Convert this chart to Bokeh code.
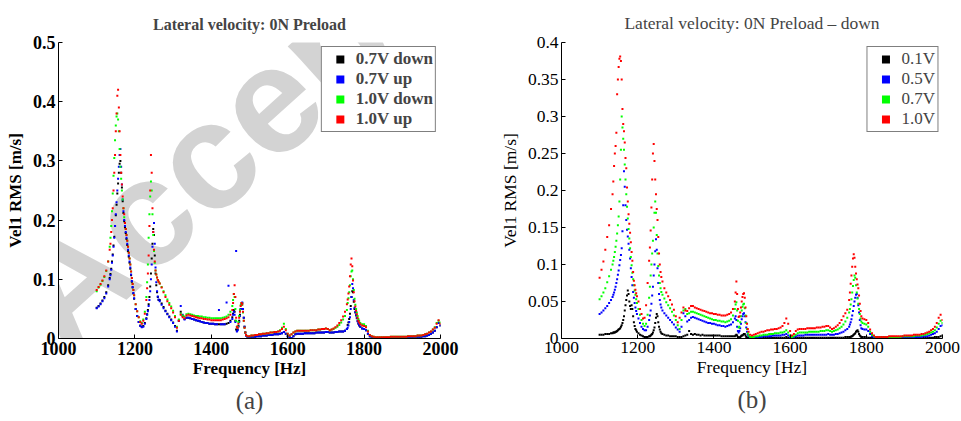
import math
from bokeh.plotting import figure
from bokeh.layouts import row
from bokeh.models import FixedTicker, Label, Title, Range1d
from bokeh.embed import file_html
from bokeh.resources import INLINE

# ---------------- data ----------------
freq = [
    1100, 1105, 1110, 1115, 1120, 1125, 1130,
    1134, 1136, 1138, 1140, 1142, 1144, 1146, 1148, 1150, 1152, 1154, 1156, 1158, 1160, 1162, 1164, 1166,
    1168, 1170, 1172, 1174, 1176, 1178, 1180, 1182, 1184, 1186, 1188, 1190, 1192, 1194, 1196, 1198,
    1202, 1206, 1210, 1214, 1218, 1222, 1226, 1230,
    1232, 1234, 1236, 1238, 1240, 1242, 1244, 1246, 1248, 1250, 1252, 1254, 1256, 1258, 1260, 1262,
    1265, 1270, 1275, 1280, 1285, 1290, 1295, 1300, 1305, 1310, 1315, 1320, 1325, 1330, 1335, 1340,
    1345, 1350, 1355, 1360, 1365, 1370, 1375, 1380, 1385, 1390, 1395, 1400, 1405, 1410, 1415, 1420,
    1425, 1430, 1435, 1440, 1445, 1450, 1455,
    1457, 1459, 1461, 1463, 1465, 1467, 1469, 1471, 1473, 1475, 1477, 1479, 1481, 1483, 1485, 1487, 1489, 1491,
    1495, 1500, 1505, 1510, 1515, 1520, 1525, 1530, 1535, 1540, 1545, 1550, 1555, 1560, 1565, 1570,
    1575, 1580, 1585, 1590, 1595, 1600, 1605, 1610, 1615, 1620, 1625, 1630, 1635, 1640, 1645, 1650,
    1655, 1660, 1665, 1670, 1675, 1680, 1685, 1690, 1695, 1700, 1705, 1710, 1715, 1720, 1725, 1730,
    1735, 1740, 1745, 1750, 1755,
    1757, 1759, 1761, 1763, 1765, 1767, 1769, 1771, 1773, 1775, 1777, 1779, 1781, 1783, 1785, 1787,
    1790, 1795, 1800, 1805, 1810, 1815, 1820, 1825, 1830, 1835, 1840, 1845, 1850, 1855, 1860, 1865,
    1870, 1875, 1880, 1885, 1890, 1895, 1900, 1905, 1910, 1915, 1920, 1925, 1930, 1935, 1940, 1945,
    1950, 1955, 1960, 1965, 1970, 1975, 1980, 1985, 1990, 1995, 2000,
]

# panel (a): Lateral velocity, 0N preload  [m/s]
a_07_down = [
    .052, .055, .059, .064, .070, .078, .090,
    .102, .109, .118, .130, .142, .157, .172, .190, .208, .226, .245, .262, .280, .295, .300, .280, .255,
    .232, .212, .198, .188, .178, .168, .158, .148, .138, .128, .118, .107, .096, .086, .076, .067,
    .050, .038, .028, .022, .020, .021, .026, .034,
    .041, .048, .058, .070, .088, .110, .135, .160, .185, .175, .140, .110, .090, .078, .070, .065,
    .065, .059, .053, .047, .042, .037, .032, .027, .021, .013, .030, .045, .038, .033, .035, .035,
    .034, .033, .032, .031, .030, .029, .028, .027, .026, .026, .025, .025, .025, .024, .024, .024,
    .024, .024, .024, .025, .026, .030, .036,
    .042, .048, .045, .030, .015, .013, .015, .021, .030, .040, .050, .057, .060, .050, .035, .020, .010, .005,
    .002, .002, .003, .003, .003, .004, .004, .004, .005, .005, .005, .006, .006, .006, .007, .007,
    .007, .008, .009, .011, .008, .004, .002, .001, .004, .007, .008, .008, .008, .008, .009, .009,
    .009, .009, .009, .009, .010, .010, .010, .010, .010, .011, .011, .010, .010, .010, .011, .011,
    .012, .012, .012, .013, .016,
    .023, .027, .033, .042, .055, .070, .080, .078, .062, .050, .044, .039, .034, .029, .025, .022,
    .020, .017, .016, .014, .008, .004, .002, .001, .001, .001, .001, .001, .001, .001, .001, .001,
    .001, .001, .001, .002, .002, .002, .002, .002, .002, .002, .002, .002, .003, .003, .003, .003,
    .003, .004, .004, .005, .006, .008, .010, .013, .019, .026, .022,
]
a_07_up = [
    .051, .054, .058, .063, .068, .076, .088,
    .100, .107, .116, .128, .140, .155, .170, .190, .210, .230, .250, .270, .290, .310, .320, .290, .260,
    .235, .215, .200, .190, .180, .170, .160, .150, .140, .130, .120, .108, .097, .087, .077, .068,
    .050, .038, .028, .021, .019, .020, .025, .033,
    .040, .046, .055, .065, .080, .100, .125, .155, .180, .195, .160, .120, .095, .080, .071, .066,
    .063, .057, .051, .046, .041, .036, .031, .026, .020, .012, .030, .055, .040, .032, .035, .035,
    .034, .033, .032, .031, .030, .029, .028, .027, .026, .026, .025, .025, .025, .024, .024, .048,
    .024, .024, .024, .061, .089, .028, .033,
    .040, .045, .040, .028, .148, .012, .014, .020, .028, .038, .050, .058, .061, .050, .035, .020, .010, .005,
    .002, .002, .003, .003, .003, .004, .004, .004, .005, .005, .005, .006, .006, .006, .007, .007,
    .007, .008, .009, .011, .008, .004, .002, .001, .004, .007, .008, .008, .008, .008, .009, .009,
    .009, .009, .009, .009, .010, .010, .010, .010, .010, .011, .011, .010, .010, .010, .011, .011,
    .012, .012, .012, .013, .016,
    .018, .022, .028, .036, .050, .070, .092, .085, .065, .052, .045, .040, .035, .030, .026, .023,
    .020, .017, .016, .014, .008, .004, .002, .001, .001, .001, .001, .001, .001, .001, .001, .001,
    .001, .001, .001, .002, .002, .002, .002, .002, .002, .002, .002, .002, .003, .003, .003, .003,
    .003, .004, .004, .005, .006, .008, .010, .013, .019, .026, .022,
]
a_10_down = [
    .080, .086, .091, .097, .104, .114, .130,
    .155, .170, .190, .215, .245, .275, .305, .335, .360, .375, .380, .370, .350, .320, .290, .270, .250,
    .235, .220, .205, .195, .185, .175, .165, .155, .145, .135, .125, .113, .102, .092, .082, .073,
    .058, .046, .036, .029, .026, .032, .045, .070,
    .095, .125, .170, .210, .240, .265, .250, .210, .175, .148, .128, .115, .108, .103, .099, .096,
    .093, .087, .080, .073, .066, .060, .054, .047, .038, .020, .032, .042, .039, .037, .041, .042,
    .041, .040, .039, .038, .038, .037, .037, .036, .036, .035, .035, .034, .034, .034, .034, .034,
    .034, .035, .036, .037, .040, .045, .055,
    .065, .075, .070, .050, .030, .020, .020, .028, .038, .048, .056, .060, .057, .044, .030, .018, .010, .006,
    .004, .004, .005, .005, .006, .006, .007, .007, .008, .008, .009, .009, .010, .010, .011, .011,
    .012, .014, .018, .025, .016, .008, .005, .007, .010, .012, .013, .013, .013, .013, .013, .013,
    .013, .014, .014, .014, .014, .015, .015, .016, .016, .017, .016, .014, .015, .016, .018, .020,
    .023, .027, .032, .038, .048,
    .060, .068, .078, .090, .105, .113, .115, .100, .082, .067, .057, .050, .044, .038, .033, .030,
    .026, .024, .024, .021, .013, .006, .004, .003, .002, .002, .002, .002, .002, .002, .002, .002,
    .003, .003, .003, .003, .003, .003, .003, .003, .003, .004, .004, .004, .004, .004, .005, .005,
    .005, .006, .007, .008, .010, .012, .015, .019, .026, .030, .027,
]
a_10_up = [
    .082, .087, .092, .098, .105, .115, .130,
    .150, .160, .180, .200, .220, .250, .280, .310, .350, .380, .410, .420, .390, .350, .310, .280, .260,
    .240, .220, .210, .195, .185, .175, .165, .155, .145, .135, .125, .113, .102, .092, .082, .073,
    .058, .046, .036, .028, .025, .030, .042, .065,
    .085, .110, .140, .190, .250, .310, .280, .220, .180, .150, .130, .115, .108, .103, .099, .096,
    .093, .086, .078, .070, .063, .057, .051, .044, .036, .018, .030, .040, .036, .034, .039, .040,
    .039, .038, .037, .036, .035, .034, .034, .033, .033, .032, .032, .031, .031, .031, .031, .031,
    .031, .032, .033, .034, .036, .040, .048,
    .060, .075, .090, .070, .035, .020, .018, .025, .035, .045, .055, .060, .058, .045, .030, .018, .010, .006,
    .004, .004, .005, .005, .006, .006, .007, .007, .008, .008, .009, .009, .010, .010, .011, .011,
    .012, .013, .016, .020, .014, .008, .005, .007, .010, .012, .013, .013, .013, .013, .013, .013,
    .013, .014, .014, .014, .014, .015, .015, .016, .016, .017, .016, .014, .015, .017, .019, .022,
    .026, .031, .037, .045, .058,
    .066, .076, .088, .105, .125, .135, .122, .098, .078, .063, .054, .047, .041, .035, .030, .027,
    .024, .022, .021, .019, .012, .006, .004, .003, .002, .002, .002, .002, .002, .002, .002, .002,
    .003, .003, .003, .003, .003, .003, .003, .003, .003, .004, .004, .004, .004, .004, .005, .005,
    .005, .006, .007, .008, .010, .012, .015, .018, .025, .031, .025,
]

# panel (b): Lateral velocity, 0N preload, down sweep  [m/s]
b_01 = [
    .005, .005, .005, .006, .006, .006, .007,
    .007, .008, .008, .008, .009, .009, .010, .011, .012, .013, .014, .016, .018, .021, .025, .030, .038,
    .045, .052, .058, .065, .060, .050, .044, .040, .045, .040, .030, .022, .017, .013, .011, .009,
    .007, .005, .004, .003, .002, .002, .002, .003,
    .003, .004, .005, .006, .008, .011, .015, .021, .028, .033, .030, .022, .016, .012, .009, .007,
    .006, .005, .004, .004, .003, .003, .003, .003, .002, .002, .002, .003, .004, .005, .010, .006,
    .005, .006, .005, .005, .004, .005, .004, .004, .004, .004, .004, .004, .004, .004, .004, .003,
    .003, .003, .003, .003, .003, .003, .003,
    .004, .005, .004, .002, .001, .001, .002, .003, .004, .004, .005, .006, .006, .004, .002, .001, .001, .001,
    .001, .001, .001, .001, .001, .001, .001, .001, .001, .001, .001, .001, .001, .001, .001, .001,
    .001, .001, .001, .002, .001, .001, .001, .001, .001, .001, .001, .001, .001, .001, .001, .001,
    .001, .001, .001, .001, .001, .001, .001, .001, .001, .001, .001, .001, .001, .001, .001, .001,
    .001, .001, .002, .002, .002,
    .002, .002, .003, .003, .004, .005, .006, .007, .009, .010, .011, .009, .006, .004, .003, .002,
    .002, .002, .002, .001, .001, .001, .001, .001, .001, .001, .001, .001, .001, .001, .001, .001,
    .001, .001, .001, .001, .001, .001, .001, .001, .001, .001, .001, .001, .001, .001, .001, .001,
    .001, .001, .001, .001, .001, .001, .002, .002, .002, .003, .004,
]
b_05 = [
    .033, .035, .038, .041, .044, .048, .052,
    .056, .059, .062, .066, .070, .075, .080, .086, .092, .099, .106, .113, .122, .145, .180, .226, .205,
    .180, .160, .147, .138, .128, .120, .108, .095, .083, .072, .063, .055, .048, .042, .037, .033,
    .027, .021, .016, .013, .011, .011, .016, .025,
    .031, .038, .047, .058, .070, .085, .100, .118, .134, .120, .095, .075, .060, .052, .046, .042,
    .038, .034, .031, .028, .025, .022, .019, .015, .012, .009, .016, .034, .030, .023, .025, .028,
    .029, .028, .027, .026, .025, .024, .023, .022, .021, .021, .020, .020, .019, .018, .018, .017,
    .017, .016, .017, .018, .019, .022, .027,
    .030, .025, .016, .010, .008, .010, .014, .020, .026, .030, .033, .034, .030, .022, .015, .009, .005, .003,
    .001, .001, .001, .002, .002, .002, .002, .003, .003, .003, .003, .003, .004, .004, .004, .004,
    .004, .005, .005, .006, .004, .002, .001, .002, .003, .004, .004, .004, .004, .005, .005, .005,
    .005, .005, .005, .005, .005, .005, .005, .005, .005, .006, .005, .005, .005, .006, .006, .007,
    .008, .009, .011, .013, .016,
    .019, .022, .026, .031, .037, .044, .050, .055, .059, .060, .055, .045, .035, .025, .018, .014,
    .013, .012, .012, .010, .006, .003, .002, .001, .001, .001, .001, .001, .001, .001, .001, .001,
    .001, .001, .001, .001, .001, .001, .001, .001, .002, .002, .002, .002, .002, .002, .002, .002,
    .003, .003, .003, .004, .005, .006, .007, .009, .013, .017, .018,
]
b_07 = [
    .053, .057, .062, .068, .076, .084, .093,
    .100, .105, .110, .117, .124, .132, .142, .153, .165, .185, .215, .255, .300, .285, .270, .255, .235,
    .215, .195, .178, .162, .148, .135, .122, .110, .099, .089, .080, .072, .065, .059, .053, .048,
    .040, .032, .025, .020, .017, .020, .032, .055,
    .070, .085, .100, .115, .132, .150, .170, .185, .170, .140, .115, .098, .085, .075, .068, .063,
    .059, .054, .049, .045, .041, .036, .031, .025, .018, .013, .025, .038, .040, .033, .034, .036,
    .036, .035, .034, .033, .032, .031, .030, .029, .028, .027, .026, .025, .025, .024, .024, .023,
    .023, .022, .023, .024, .026, .031, .040,
    .046, .049, .038, .024, .015, .016, .022, .030, .038, .043, .046, .047, .041, .031, .021, .013, .007, .004,
    .002, .002, .002, .003, .003, .004, .004, .005, .005, .005, .006, .006, .006, .007, .007, .007,
    .008, .008, .009, .011, .008, .004, .002, .003, .005, .007, .008, .008, .008, .008, .008, .009,
    .009, .009, .009, .009, .009, .010, .010, .010, .011, .011, .010, .009, .010, .011, .012, .014,
    .016, .019, .023, .028, .035,
    .040, .046, .053, .062, .071, .079, .085, .082, .072, .062, .054, .047, .040, .033, .027, .023,
    .021, .020, .019, .016, .009, .005, .003, .002, .002, .002, .002, .002, .002, .002, .002, .002,
    .002, .002, .002, .002, .002, .003, .003, .003, .003, .003, .003, .003, .004, .004, .004, .004,
    .005, .005, .006, .007, .008, .009, .011, .015, .020, .024, .021,
]
b_10 = [
    .082, .093, .104, .120, .137, .153, .175,
    .195, .212, .233, .250, .260, .278, .330, .350, .367, .378, .381, .375, .350, .310, .290, .280, .265,
    .244, .230, .204, .185, .168, .155, .143, .130, .117, .105, .090, .078, .072, .066, .061, .057,
    .050, .040, .033, .027, .028, .045, .075, .105,
    .123, .146, .177, .215, .250, .263, .240, .215, .195, .175, .160, .137, .115, .100, .090, .083,
    .077, .068, .062, .057, .052, .046, .039, .030, .022, .028, .035, .042, .038, .037, .041, .044,
    .044, .042, .041, .040, .039, .038, .037, .036, .035, .034, .034, .033, .033, .032, .032, .031,
    .031, .031, .032, .033, .035, .040, .050,
    .062, .077, .060, .040, .029, .030, .035, .042, .050, .056, .060, .061, .055, .042, .030, .020, .013, .009,
    .005, .004, .005, .006, .007, .008, .009, .009, .010, .011, .011, .012, .012, .013, .013, .014,
    .015, .017, .021, .027, .020, .010, .004, .006, .010, .012, .013, .013, .013, .013, .014, .014,
    .014, .014, .014, .015, .015, .015, .016, .016, .017, .017, .015, .013, .014, .016, .018, .021,
    .025, .030, .034, .039, .052,
    .062, .074, .085, .097, .108, .114, .109, .097, .088, .080, .073, .068, .058, .047, .037, .030,
    .027, .026, .025, .021, .012, .007, .004, .002, .002, .002, .002, .002, .002, .002, .003, .003,
    .003, .003, .003, .003, .003, .003, .004, .004, .004, .004, .004, .005, .005, .005, .005, .006,
    .006, .007, .008, .009, .011, .013, .016, .021, .028, .032, .025,
]

x_ticks = [1000, 1200, 1400, 1600, 1800, 2000]
a_yticks = [0, 0.1, 0.2, 0.3, 0.4, 0.5]
a_ylabels = ["0", "0.1", "0.2", "0.3", "0.4", "0.5"]
b_yticks = [0, 0.05, 0.1, 0.15, 0.2, 0.25, 0.3, 0.35, 0.4]
b_ylabels = ["0", "0.05", "0.1", "0.15", "0.2", "0.25", "0.3", "0.35", "0.4"]

series_a = [("0.7V down", a_07_down, "#000000"), ("0.7V up", a_07_up, "#0000ff"),
            ("1.0V down", a_10_down, "#00ff00"), ("1.0V up", a_10_up, "#ff0000")]
series_b = [("0.1V", b_01, "#000000"), ("0.5V", b_05, "#0000ff"),
            ("0.7V", b_07, "#00ff00"), ("1.0V", b_10, "#ff0000")]

for name, s, _c in series_a + series_b:
    assert len(s) == len(freq), (name, len(s), len(freq))

FONT = "Liberation Serif"


def make_panel(width, ymax, yticks, ylabels, series, title, caption, weight,
               border_left, border_right, border_top, fs):
    p = figure(width=width, height=421, x_range=Range1d(1000, 2000), y_range=Range1d(0, ymax),
               output_backend="svg", toolbar_location=None,
               min_border_left=border_left, min_border_right=border_right,
               min_border_top=border_top, min_border_bottom=83)
    p.outline_line_color = None
    p.grid.visible = False
    p.background_fill_color = None
    p.border_fill_color = "white"

    p.title.text = title
    p.title.align = "center"
    p.title.text_font = FONT
    p.title.text_font_style = weight
    p.title.text_font_size = fs["title"]
    p.title.standoff = 20

    for ax in (p.xaxis[0], p.yaxis[0]):
        ax.axis_line_color = "black"
        ax.axis_line_width = 1
        ax.major_tick_in = 4
        ax.major_tick_out = 0
        ax.minor_tick_line_color = None
        ax.major_tick_line_color = "black"
        ax.major_label_text_font = FONT
        ax.major_label_text_font_style = weight
        ax.major_label_text_font_size = fs["tick"]
        ax.major_label_text_color = "black"
        ax.axis_label_text_font = FONT
        ax.axis_label_text_font_style = weight
        ax.axis_label_text_font_size = fs["label"]
        ax.axis_label_text_color = "black"

    p.xaxis.ticker = FixedTicker(ticks=x_ticks)
    p.yaxis.ticker = FixedTicker(ticks=yticks)
    p.yaxis.major_label_overrides = {t: l for t, l in zip(yticks, ylabels)}
    p.xaxis.axis_label = "Frequency [Hz]"
    p.yaxis.axis_label = "Vel1 RMS [m/s]"
    p.xaxis.major_label_standoff = 3
    p.yaxis.major_label_standoff = 3
    p.xaxis.axis_label_standoff = 1
    p.yaxis.axis_label_standoff = 5

    for name, vals, color in series:
        p.scatter(freq, vals, marker="square", size=2.0, fill_color=color,
                  line_color=None, legend_label=name)

    lg = p.legend[0]
    lg.location = "top_right"
    lg.margin = 4
    lg.padding = 2
    lg.spacing = 0
    lg.glyph_width = 32
    lg.glyph_height = 20
    lg.label_height = 20
    lg.label_standoff = 0
    lg.label_text_font = FONT
    lg.label_text_font_style = weight
    lg.label_text_font_size = fs["legend"]
    lg.border_line_color = "black"
    lg.border_line_width = 1
    lg.background_fill_alpha = 1.0

    p.add_layout(Title(text=caption, align="center", text_font=FONT, text_font_style="normal",
                       text_font_size="25px", standoff=8), "below")
    return p


pa = make_panel(480, 0.5, a_yticks, a_ylabels, series_a, "Lateral velocity: 0N Preload", "(a)",
                "bold", 58, 40, 40,
                {"title": "16px", "tick": "18px", "label": "17px", "legend": "17px"})
pb = make_panel(481, 0.4, b_yticks, b_ylabels, series_b, "Lateral velocity: 0N Preload \u2013 down", "(b)",
                "normal", 81, 19, 41,
                {"title": "17.5px", "tick": "17.5px", "label": "17.5px", "legend": "17px"})

# "Accepted" watermark of the source page (frame-relative screen units)
pa.add_layout(Label(x=-30, y=22, x_units="screen", y_units="screen", text="Accepted",
                    angle=math.radians(42), text_font="Liberation Sans", text_font_style="bold",
                    text_font_size="152px", text_color="#d3d3d3", text_baseline="alphabetic",
                    level="image"))

layout = row(pa, pb)
open("out.html", "w").write(file_html(layout, INLINE))
